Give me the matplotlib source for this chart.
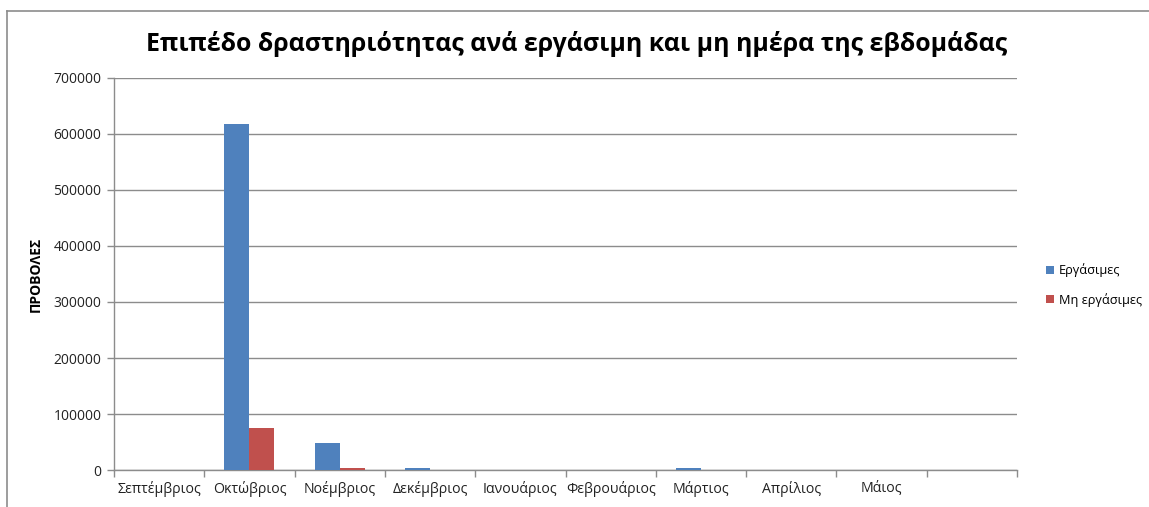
import matplotlib
matplotlib.use("Agg")
import matplotlib.pyplot as plt
from matplotlib.lines import Line2D
import numpy as np

months = ["Σεπτέμβριος", "Οκτώβριος", "Νοέμβριος", "Δεκέμβριος", "Ιανουάριος",
          "Φεβρουάριος", "Μάρτιος", "Απρίλιος", "Μάιος", ""]
workdays = [0, 618000, 49000, 3000, 0, 0, 3000, 0, 0, 0]
non_workdays = [0, 75000, 3500, 0, 0, 0, 0, 0, 0, 0]
yticks = [0, 100000, 200000, 300000, 400000, 500000, 600000, 700000]

plt.rcParams['font.family'] = ['Open Sans', 'DejaVu Sans']

W, H = 1149, 507
fig = plt.figure(figsize=(W / 100, H / 100), dpi=100)
ax = fig.add_axes([114 / W, 1 - 470 / H, (1017 - 114) / W, (470 - 78) / H])

# outer chart frame (top and left edges)
frame_kw = dict(transform=fig.transFigure, color='#8c8c8c', linewidth=1.2)
fig.lines.append(Line2D([7 / W, 1.05], [1 - 11 / H, 1 - 11 / H], **frame_kw))
fig.lines.append(Line2D([7 / W, 7 / W], [1 - 11 / H, -0.05], **frame_kw))

x = np.arange(len(months))
bw = 0.277
ax.bar(x - bw / 2, workdays, bw, color='#4F81BD', label='Εργάσιμες', zorder=3)
ax.bar(x + bw / 2, non_workdays, bw, color='#C0504D', label='Μη εργάσιμες', zorder=3)

ax.set_xlim(-0.5, len(months) - 0.5)
ax.set_ylim(0, 700000)
ax.set_yticks(yticks)
ax.set_yticklabels([str(v) for v in yticks], fontsize=10, color='#222222')
ax.yaxis.grid(True, color='#8c8c8c', linewidth=1)
ax.set_axisbelow(True)

ax.set_xticks(x)
ax.set_xticklabels(months, fontsize=10.2, color='#222222')
ax.set_xticks(np.arange(-0.5, len(months)), minor=True)
ax.tick_params(axis='x', which='major', length=0, pad=8)
ax.tick_params(axis='x', which='minor', length=5, color='#8c8c8c', width=1)
ax.tick_params(axis='y', length=5, color='#8c8c8c', width=1, pad=4)

for s in ['top', 'right']:
    ax.spines[s].set_visible(False)
for s in ['left', 'bottom']:
    ax.spines[s].set_color('#8c8c8c')
    ax.spines[s].set_linewidth(1)

fig.text(36 / W, 1 - 274 / H, 'ΠΡΟΒΟΛΕΣ', rotation=90, ha='center', va='center',
         fontsize=10, fontweight='bold', color='black')

fig.text(577 / W, 1 - 44 / H,
         'Επιπέδο δραστηριότητας ανά εργάσιμη και μη ημέρα της εβδομάδας',
         ha='center', va='center', fontsize=17.9, fontweight='bold', color='black')

fig.legend(loc='center left', bbox_to_anchor=(1040 / W, 1 - 285 / H),
           frameon=False, fontsize=9.2, handlelength=0.6, handleheight=0.6,
           handletextpad=0.35, labelspacing=1.2, borderpad=0)

fig.savefig('out.png', dpi=100, facecolor='white')
